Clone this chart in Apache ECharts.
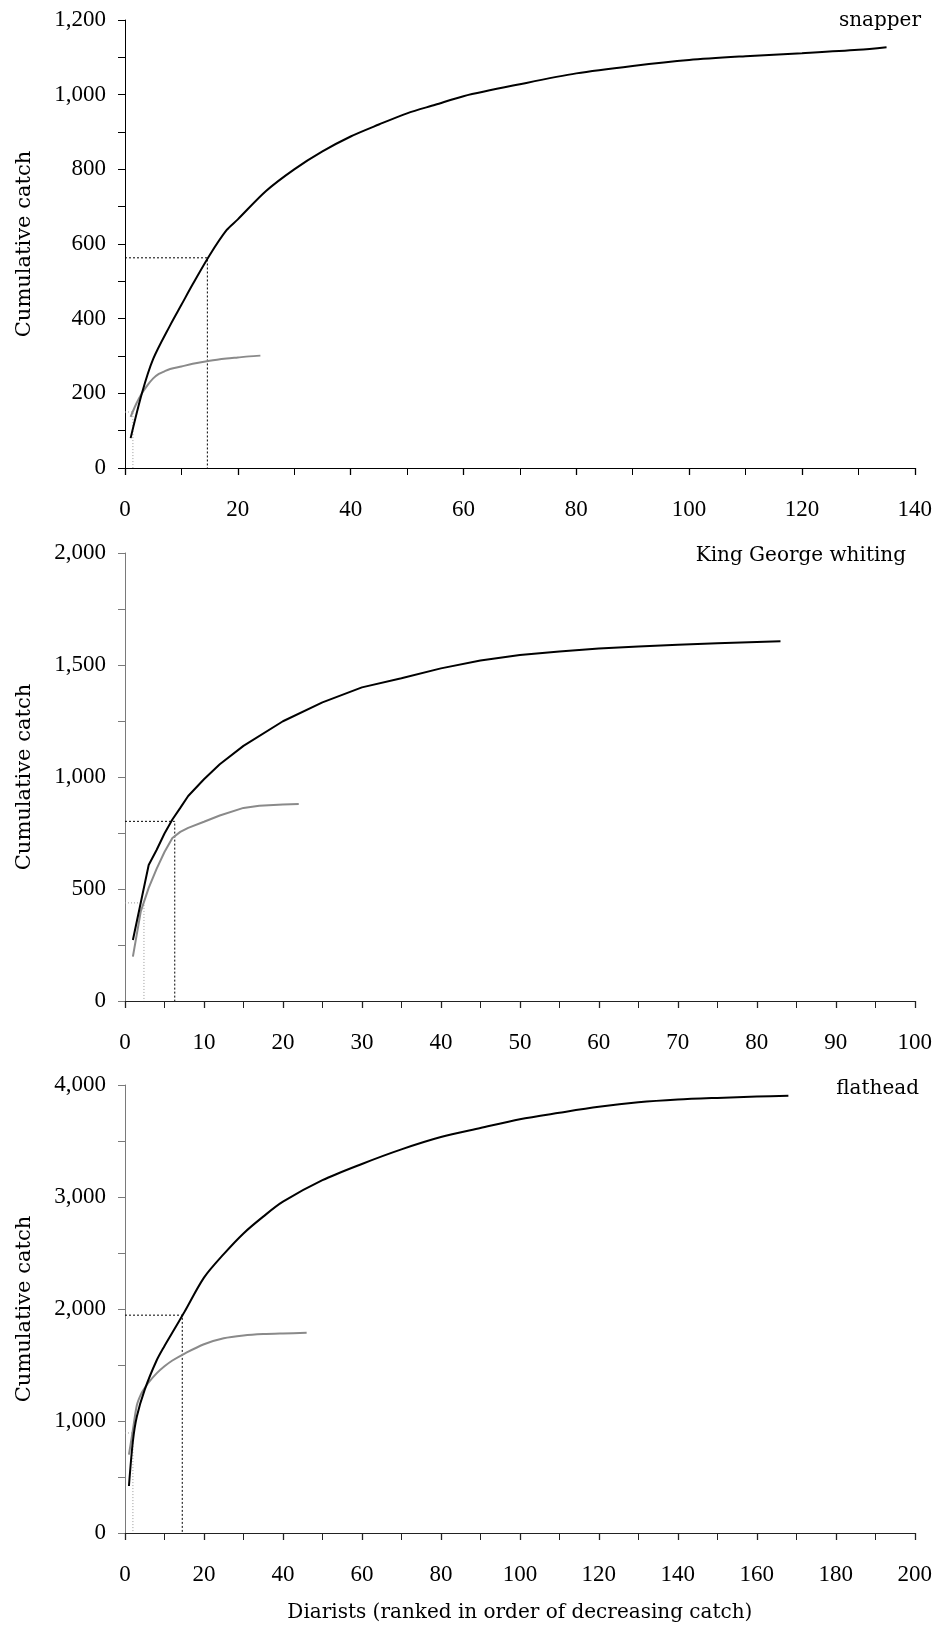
<!DOCTYPE html>
<html>
<head>
<meta charset="utf-8">
<script src="https://cdn.jsdelivr.net/npm/echarts@6/dist/echarts.min.js"></script>
<style>
html,body{margin:0;padding:0;background:#fff;}
#chart{width:935px;height:1631px;}
</style>
</head>
<body>
<div id="chart"></div>
<script>
// ---- Data ----
const panelTitles = ['snapper', 'King George whiting', 'flathead'];
const yAxisTitle = 'Cumulative catch';
const xAxisTitle = 'Diarists (ranked in order of decreasing catch)';

// snapper
const snapperBlackRanks = [1, 3, 5, 8, 10, 12, 15, 18, 20, 25, 30, 35, 40, 45, 50, 55, 60, 70, 80, 90, 100, 110, 120, 130, 135];
const snapperBlackCatch = [80, 200, 292, 382, 437, 492, 570, 637, 666, 742, 800, 848, 888, 920, 950, 973, 996, 1028, 1057, 1077, 1093, 1103, 1111, 1120, 1127];
const snapperGrayRanks = [1, 2, 3, 4, 5, 6, 7, 8, 10, 12, 15, 18, 20, 22, 24];
const snapperGrayCatch = [137, 172, 200, 222, 240, 252, 259, 265, 272, 279, 287, 293, 296, 299, 301];
const snapperBlackHalf = [[0, 563], [14.6, 563], [14.6, 0]];
const snapperGrayHalf = [[0, 150], [1.4, 150], [1.4, 0]];

// King George whiting
const kgwBlackRanks = [1, 3, 4, 5, 6, 7, 8, 10, 12, 15, 20, 25, 30, 35, 40, 45, 50, 55, 60, 65, 70, 75, 80, 83];
const kgwBlackCatch = [272, 607, 674, 748, 810, 862, 915, 990, 1057, 1139, 1249, 1333, 1400, 1441, 1485, 1520, 1545, 1560, 1574, 1583, 1590, 1597, 1603, 1606];
const kgwGrayRanks = [1, 2, 3, 4, 5, 6, 7, 8, 10, 12, 15, 17, 20, 22];
const kgwGrayCatch = [198, 400, 505, 590, 665, 728, 755, 773, 800, 828, 862, 872, 877, 879];
const kgwBlackHalf = [[0, 802], [6.3, 802], [6.3, 0]];
const kgwGrayHalf = [[0, 438], [2.4, 438], [2.4, 0]];

// flathead
const flatBlackRanks = [1, 2, 3, 5, 8, 10, 12, 15, 20, 25, 30, 35, 40, 50, 60, 70, 80, 90, 100, 110, 120, 130, 140, 150, 160, 168];
const flatBlackCatch = [420, 820, 1040, 1280, 1540, 1670, 1790, 1970, 2280, 2490, 2675, 2825, 2958, 3150, 3295, 3425, 3535, 3616, 3695, 3752, 3805, 3845, 3870, 3885, 3897, 3905];
const flatGrayRanks = [1, 2, 3, 4, 5, 6, 8, 10, 12, 15, 20, 25, 30, 35, 40, 46];
const flatGrayCatch = [700, 920, 1140, 1235, 1295, 1345, 1425, 1488, 1540, 1600, 1685, 1738, 1763, 1776, 1782, 1787];
const flatBlackHalf = [[0, 1945], [14.5, 1945], [14.5, 0]];
const flatGrayHalf = [[0, 893], [2, 893], [2, 0]];

// axis ranges / tick labels
const xMax = [140, 100, 200];
const xInterval = [20, 10, 20];
const yMax = [1200, 2000, 4000];
const yInterval = [200, 500, 1000];

// ---- Build ----
function zip(xs, ys) { return xs.map((x, i) => [x, ys[i]]); }

const tickFont = 'Liberation Serif';
const textFont = 'DejaVu Serif';
const gridTops = [20, 553, 1085];
const yAxisColors = ['#000', '#7a7a7a', '#7a7a7a'];
const xAxisColors = ['#000', '#222', '#222'];

const grids = gridTops.map(t => ({ left: 125, width: 792, top: t, height: 448 }));

const xAxes = grids.map((g, i) => ({
  type: 'value', gridIndex: i, min: 0, max: xMax[i], interval: xInterval[i],
  axisLine: { show: true, lineStyle: { color: xAxisColors[i], width: 1 } },
  axisTick: { show: true, length: 7, lineStyle: { color: xAxisColors[i], width: 1.3 } },
  minorTick: { show: true, splitNumber: 2, length: 7, lineStyle: { color: xAxisColors[i], width: 1 } },
  splitLine: { show: false },
  axisLabel: { margin: 30, fontSize: 23, fontFamily: tickFont, color: '#000' },
  name: i === 2 ? xAxisTitle : '',
  nameLocation: 'middle', nameGap: 70,
  nameTextStyle: { fontSize: 20, fontFamily: textFont, color: '#000' }
}));

const yAxes = grids.map((g, i) => ({
  type: 'value', gridIndex: i, min: 0, max: yMax[i], interval: yInterval[i],
  axisLine: { show: true, lineStyle: { color: yAxisColors[i], width: 1 } },
  axisTick: { show: true, length: 7, lineStyle: { color: yAxisColors[i], width: 1 } },
  minorTick: { show: true, splitNumber: 2, length: 7, lineStyle: { color: yAxisColors[i], width: 1 } },
  splitLine: { show: false },
  axisLabel: { margin: 19, fontSize: 23, fontFamily: tickFont, color: '#000',
    formatter: v => v.toLocaleString('en-US') },
  name: yAxisTitle, nameLocation: 'middle', nameRotate: 90, nameGap: 90,
  nameTextStyle: { fontSize: 21, fontFamily: textFont, color: '#000' }
}));

const panels = [
  { black: zip(snapperBlackRanks, snapperBlackCatch), gray: zip(snapperGrayRanks, snapperGrayCatch), bh: snapperBlackHalf, gh: snapperGrayHalf, smooth: 0.3 },
  { black: zip(kgwBlackRanks, kgwBlackCatch), gray: zip(kgwGrayRanks, kgwGrayCatch), bh: kgwBlackHalf, gh: kgwGrayHalf, smooth: false },
  { black: zip(flatBlackRanks, flatBlackCatch), gray: zip(flatGrayRanks, flatGrayCatch), bh: flatBlackHalf, gh: flatGrayHalf, smooth: 0.3 }
];

const series = [];
panels.forEach((p, i) => {
  series.push({ type: 'line', xAxisIndex: i, yAxisIndex: i, data: p.gh, symbol: 'none', silent: true, z: 1,
    lineStyle: { color: '#9a9a9a', width: 1, type: [1, 2] } });
  series.push({ type: 'line', xAxisIndex: i, yAxisIndex: i, data: p.bh, symbol: 'none', silent: true, z: 1,
    lineStyle: { color: '#000', width: 1, type: [2, 2] } });
  series.push({ type: 'line', xAxisIndex: i, yAxisIndex: i, data: p.gray, symbol: 'none', z: 2,
    smooth: p.smooth, lineStyle: { color: '#8a8a8a', width: 2 } });
  series.push({ type: 'line', xAxisIndex: i, yAxisIndex: i, data: p.black, symbol: 'none', z: 3,
    smooth: p.smooth, lineStyle: { color: '#000', width: 2 } });
});

const titleStyle = { fontSize: 20, fontFamily: textFont, fontWeight: 'normal', color: '#000' };
const titles = [
  { text: panelTitles[0], right: 14, top: 11, padding: 0, textStyle: titleStyle },
  { text: panelTitles[1], right: 29, top: 546, padding: 0, textStyle: titleStyle },
  { text: panelTitles[2], right: 16, top: 1079, padding: 0, textStyle: titleStyle }
];

const chart = echarts.init(document.getElementById('chart'), null, { renderer: 'canvas' });
chart.setOption({
  animation: false,
  backgroundColor: '#fff',
  title: titles,
  grid: grids,
  xAxis: xAxes,
  yAxis: yAxes,
  series: series
});
</script>
</body>
</html>
